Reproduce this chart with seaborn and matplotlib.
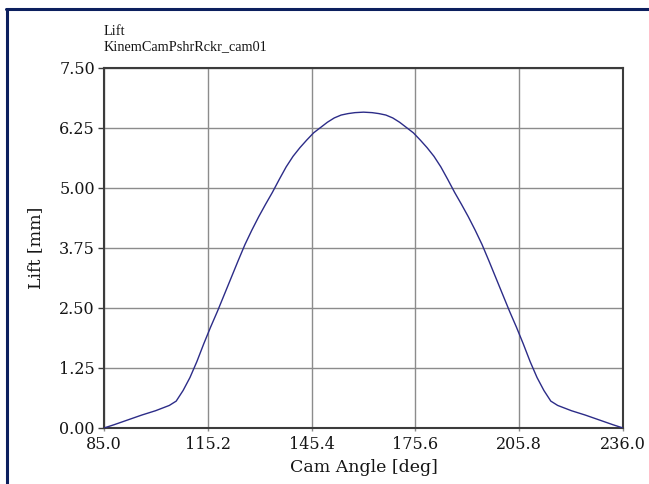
import matplotlib
matplotlib.use("Agg")
import matplotlib.pyplot as plt
import seaborn as sns
import pandas as pd
from matplotlib.lines import Line2D

# ---- data ----
cam_angle = [85.0, 88.0, 92.0, 96.0, 100.0, 104.0, 106.0, 108.0, 110.0, 112.0,
             114.0, 116.0, 118.0, 120.0, 122.0, 124.0, 126.0, 128.0, 130.0, 132.0,
             134.0, 136.0, 138.0, 140.0, 142.0, 144.0, 146.0, 148.0, 150.0, 152.0,
             154.0, 156.0, 158.0, 160.5, 163.0, 165.0, 167.0, 169.0, 171.0, 173.0,
             175.0, 177.0, 179.0, 181.0, 183.0, 185.0, 187.0, 189.0, 191.0, 193.0,
             195.0, 197.0, 199.0, 201.0, 203.0, 205.0, 207.0, 209.0, 211.0, 213.0,
             215.0, 217.0, 221.0, 225.0, 229.0, 233.0, 236.0]
lift = [0.00, 0.07, 0.17, 0.27, 0.36, 0.47, 0.56, 0.78, 1.05, 1.38,
        1.75, 2.10, 2.43, 2.78, 3.13, 3.48, 3.82, 4.12, 4.40, 4.66,
        4.91, 5.18, 5.44, 5.66, 5.84, 6.00, 6.15, 6.26, 6.37, 6.46,
        6.52, 6.55, 6.57, 6.58, 6.57, 6.55, 6.52, 6.46, 6.37, 6.26,
        6.15, 6.00, 5.84, 5.66, 5.44, 5.18, 4.91, 4.66, 4.40, 4.12,
        3.82, 3.48, 3.13, 2.78, 2.43, 2.10, 1.75, 1.38, 1.05, 0.78,
        0.56, 0.47, 0.36, 0.27, 0.17, 0.07, 0.00]
x_ticks = [85.0, 115.2, 145.4, 175.6, 205.8, 236.0]
x_tick_labels = ["85.0", "115.2", "145.4", "175.6", "205.8", "236.0"]
y_ticks = [0.0, 1.25, 2.5, 3.75, 5.0, 6.25, 7.5]
y_tick_labels = ["0.00", "1.25", "2.50", "3.75", "5.00", "6.25", "7.50"]
title_lines = ["Lift", "KinemCamPshrRckr_cam01"]
x_label = "Cam Angle [deg]"
y_label = "Lift [mm]"

df = pd.DataFrame({"angle": cam_angle, "lift": lift})

sns.set_theme(style="white")
plt.rcParams["font.family"] = ["DejaVu Serif"]

W, H = 649, 484
fig = plt.figure(figsize=(W / 100, H / 100), dpi=100)
fig.patch.set_facecolor("white")

L, R, T, B = 104, 623, 68, 428
ax = fig.add_axes([L / W, (H - B) / H, (R - L) / W, (B - T) / H])
ax.set_facecolor("white")

sns.lineplot(data=df, x="angle", y="lift", ax=ax, color="#2c2c88",
             linewidth=1.0, zorder=3)

ax.set_xlim(85.0, 236.0)
ax.set_ylim(0.0, 7.5)
ax.set_xticks(x_ticks)
ax.set_xticklabels(x_tick_labels)
ax.set_yticks(y_ticks)
ax.set_yticklabels(y_tick_labels)
ax.grid(True, color="#8c8c8c", linewidth=1.0, zorder=1)
for s in ax.spines.values():
    s.set_color("#3c3c3c")
    s.set_linewidth(1.5)
txt = "#151515"
ax.tick_params(axis="y", direction="out", length=4, width=1, color="#3c3c3c",
               pad=2.5, labelsize=11.5, labelcolor=txt, left=True)
ax.tick_params(axis="x", direction="out", length=2, width=1, color="#8c8c8c",
               pad=4, labelsize=11.5, labelcolor=txt, bottom=True)
ax.set_xlabel(x_label, fontsize=12.5, color=txt, labelpad=4)
ax.set_ylabel(y_label, fontsize=12.5, color=txt, labelpad=11)

# title lines, left aligned with plot (narrow Times-like face)
fig.text(L / W, 1 - 35 / H, title_lines[0], ha="left", va="baseline",
         fontsize=10.3, color=txt, family=["Liberation Serif"])
fig.text(L / W, 1 - 50 / H, title_lines[1], ha="left", va="baseline",
         fontsize=10.3, color=txt, family=["Liberation Serif"])

# outer navy frame (top and left edges)
navy = "#0c1f5e"
fig.add_artist(Line2D([6 / W, 1.0], [1 - 9 / H, 1 - 9 / H],
                      transform=fig.transFigure, color=navy, linewidth=2.2))
fig.add_artist(Line2D([6.5 / W, 6.5 / W], [1 - 9 / H, 0.0],
                      transform=fig.transFigure, color=navy, linewidth=2.2))

fig.savefig("out.png", dpi=100)
